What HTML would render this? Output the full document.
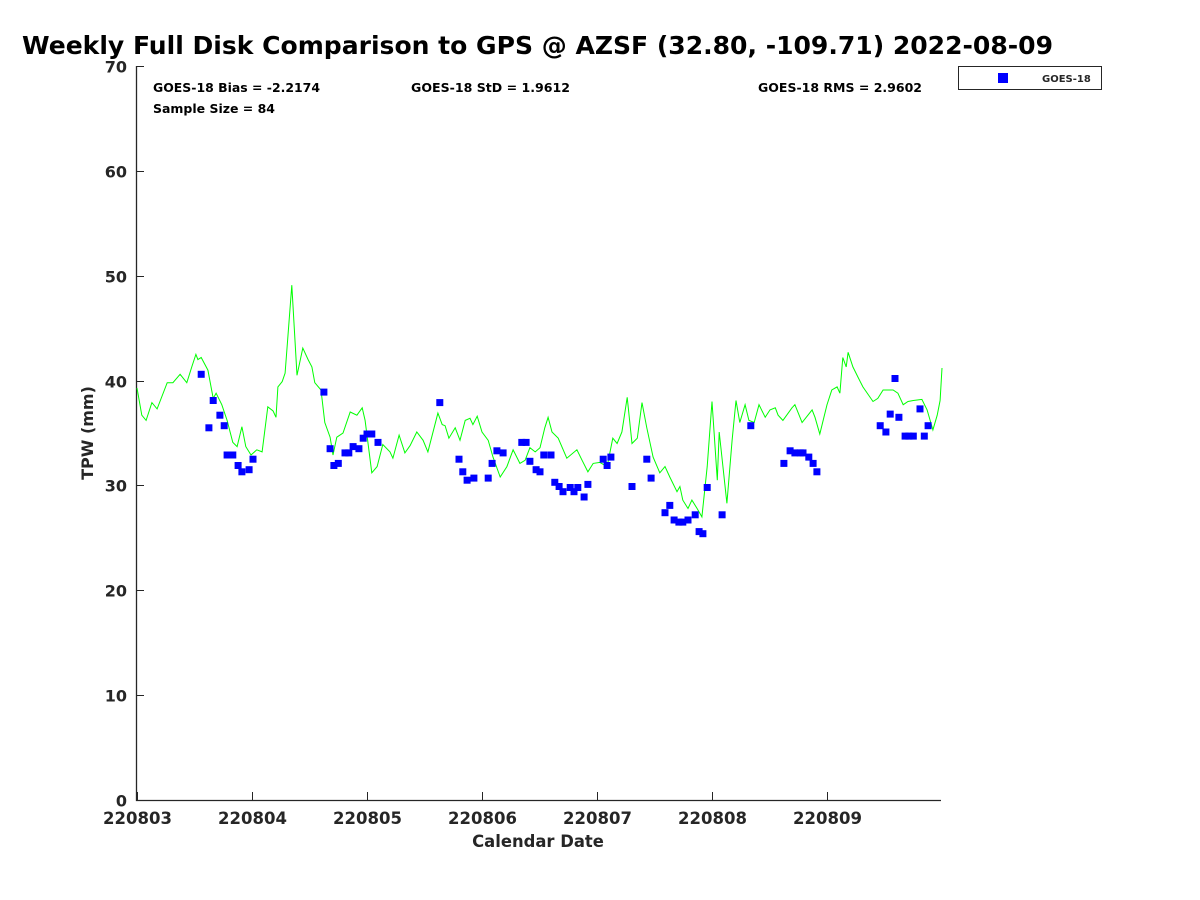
<!DOCTYPE html>
<html><head><meta charset="utf-8">
<style>
html,body{margin:0;padding:0;background:#fff;}
svg{display:block;font-family:"DejaVu Sans","Liberation Sans",sans-serif;font-weight:bold;}
</style></head>
<body>
<svg id="chart" width="1200" height="900" viewBox="0 0 1200 900">
<text x="22" y="54" font-size="24.5" fill="#000" textLength="1031" lengthAdjust="spacingAndGlyphs">Weekly Full Disk Comparison to GPS @ AZSF (32.80, -109.71) 2022-08-09</text>
<text x="153" y="92" font-size="12" fill="#000" textLength="167" lengthAdjust="spacingAndGlyphs">GOES-18 Bias = -2.2174</text>
<text x="411" y="92" font-size="12" fill="#000" textLength="159" lengthAdjust="spacingAndGlyphs">GOES-18 StD = 1.9612</text>
<text x="758" y="92" font-size="12" fill="#000" textLength="164" lengthAdjust="spacingAndGlyphs">GOES-18 RMS = 2.9602</text>
<text x="153" y="113" font-size="12" fill="#000" textLength="122" lengthAdjust="spacingAndGlyphs">Sample Size = 84</text>
<g>
<rect x="958.5" y="66.5" width="143" height="23" fill="#fff" stroke="#262626" stroke-width="1"/>
<rect x="998" y="73" width="10" height="10" fill="#0000ff"/>
<text x="1042" y="82" font-size="10" fill="#262626">GOES-18</text>
</g>
<text transform="translate(93,433) rotate(-90)" text-anchor="middle" font-size="16" fill="#262626">TPW (mm)</text>
<text x="538" y="847" text-anchor="middle" font-size="16.4" fill="#262626">Calendar Date</text>
<g id="plot"></g>
</svg>
<script>
const xTickLabels=["220803","220804","220805","220806","220807","220808","220809"];
const xTickHours=[0,24,48,72,96,120,144];
const yTicks=[0,10,20,30,40,50,60,70];
const lineHours=[0,1.0,1.9,3.1,4.2,6.3,7.5,9.0,10.4,11.5,12.3,12.7,13.4,14.8,15.9,16.5,17.7,18.8,20.0,20.9,21.9,22.7,23.8,25.0,26.1,27.3,28.4,29.0,29.4,30.3,30.9,31.5,32.3,33.4,34.6,35.7,36.5,37.1,38.4,39.2,40.3,40.9,41.7,43.0,44.5,45.9,47.0,47.6,49.0,50.1,51.3,52.8,53.4,54.7,55.9,57.0,58.4,59.7,60.7,62.8,63.7,64.3,65.1,66.4,67.4,68.5,69.5,70.1,71.0,72.0,73.3,74.3,75.8,77.2,78.5,79.9,81.0,82.0,83.1,84.1,85.1,85.8,86.6,87.9,89.7,91.8,92.9,94.1,95.2,96.6,98.1,99.3,100.2,101.2,102.3,103.3,104.4,105.4,106.4,107.7,109.1,110.2,111.2,112.7,113.3,113.9,115.0,115.8,116.9,117.9,119.0,120.0,121.1,121.5,123.1,124.2,125.0,125.8,126.9,127.7,128.8,129.8,131.1,132.1,133.2,133.8,134.8,136.7,137.3,138.8,140.9,141.5,142.5,144.0,145.0,146.1,146.7,147.3,148.0,148.4,149.4,150.5,151.5,153.6,154.6,155.7,157.8,158.8,159.9,160.9,162.0,163.8,164.9,166.1,167.0,167.6,168.0];
const lineValues=[39.3,36.7,36.2,37.9,37.3,39.8,39.8,40.6,39.8,41.4,42.5,42.0,42.2,41.0,38.3,38.8,37.7,36.2,34.1,33.7,35.6,33.7,32.9,33.4,33.2,37.5,37.1,36.5,39.4,39.9,40.7,44.2,49.1,40.5,43.1,42.0,41.3,39.8,39.1,36.0,34.6,32.9,34.6,35.0,37.0,36.7,37.4,36.2,31.2,31.8,33.9,33.2,32.6,34.8,33.1,33.8,35.1,34.3,33.2,36.9,35.8,35.7,34.5,35.5,34.3,36.2,36.4,35.8,36.6,35.1,34.3,32.7,30.8,31.8,33.4,32.1,32.4,33.6,33.2,33.6,35.5,36.5,35.1,34.5,32.6,33.4,32.4,31.3,32.1,32.2,31.8,34.5,34.0,35.1,38.4,34.0,34.5,37.9,35.5,32.7,31.2,31.8,30.8,29.4,29.9,28.6,27.8,28.6,27.8,27.0,31.8,38.0,30.5,35.1,28.3,34.3,38.1,36.0,37.7,36.2,36.0,37.7,36.5,37.2,37.4,36.7,36.2,37.4,37.7,36.0,37.2,36.5,34.9,37.7,39.1,39.4,38.8,42.2,41.3,42.7,41.3,40.3,39.4,38.0,38.3,39.1,39.1,38.8,37.7,38.0,38.1,38.2,37.2,35.3,36.7,38.1,41.2];
const pointHours=[13.4,15.0,15.9,17.3,18.2,18.8,20.0,21.1,21.9,23.4,24.2,39.0,40.3,41.1,42.0,43.4,44.2,45.1,46.3,47.2,48.0,49.0,50.3,63.2,67.2,68.0,68.9,70.3,73.3,74.1,75.1,76.4,80.3,81.2,82.0,83.3,84.1,84.9,86.4,87.2,88.1,88.9,90.4,91.2,92.0,93.3,94.1,97.3,98.1,98.9,103.3,106.4,107.3,110.2,111.2,112.1,113.1,113.9,115.0,116.5,117.3,118.1,119.0,122.1,128.1,135.0,136.3,137.3,138.4,139.0,140.2,141.1,141.9,155.1,156.3,157.2,158.2,159.0,160.3,161.1,162.0,163.4,164.3,165.1];
const pointValues=[40.6,35.5,38.1,36.7,35.7,32.9,32.9,31.9,31.3,31.5,32.5,38.9,33.5,31.9,32.1,33.1,33.1,33.7,33.5,34.5,34.9,34.9,34.1,37.9,32.5,31.3,30.5,30.7,30.7,32.1,33.3,33.1,34.1,34.1,32.3,31.5,31.3,32.9,32.9,30.3,29.9,29.4,29.8,29.4,29.8,28.9,30.1,32.5,31.9,32.7,29.9,32.5,30.7,27.4,28.1,26.7,26.5,26.5,26.7,27.2,25.6,25.4,29.8,27.2,35.7,32.1,33.3,33.1,33.1,33.1,32.7,32.1,31.3,35.7,35.1,36.8,40.2,36.5,34.7,34.7,34.7,37.3,34.7,35.7];

const NS="http://www.w3.org/2000/svg";
const X0=137,X1=942,Y0=800,Y1=66;
function sx(h){return X0+(h/168)*(X1-X0);}
function sy(v){return Y0-(v/70)*(Y0-Y1);}
const g=document.getElementById('plot');
function mk(tag,attrs){const e=document.createElementNS(NS,tag);for(const k in attrs)e.setAttribute(k,attrs[k]);g.appendChild(e);return e;}

let ax=mk('path',{d:`M136.5,${Y1} V800.5 H941`,fill:'none',stroke:'#262626','stroke-width':1.3});


yTicks.forEach(v=>{
  const y=Math.round(sy(v))+0.5;
  const t=mk('line',{x1:136,x2:144,y1:y,y2:y,stroke:'#262626','stroke-width':1});
  
  
  const l=mk('text',{x:127,y:y+6,'text-anchor':'end','font-size':16,fill:'#262626'});
  l.textContent=v;
  
  
});
xTickHours.forEach((h,i)=>{
  const x=Math.round(sx(h))+0.5;
  const t=mk('line',{x1:x,x2:x,y1:800,y2:792,stroke:'#262626','stroke-width':1});
  
  
  const l=mk('text',{x:x,y:824,'text-anchor':'middle','font-size':16.5,fill:'#262626'});
  l.textContent=xTickLabels[i];
  
  
});
const pts=lineHours.map((h,i)=>sx(h).toFixed(1)+','+sy(lineValues[i]).toFixed(1)).join(' ');
const pl=mk('polyline',{points:pts,fill:'none',stroke:'#00ff00','stroke-width':1});


pointHours.forEach((h,i)=>{
  const r=mk('rect',{x:(sx(h)-3.5).toFixed(1),y:(sy(pointValues[i])-3.5).toFixed(1),width:7,height:7,fill:'#0000ff'});
  
  
});
</script>
</body></html>
